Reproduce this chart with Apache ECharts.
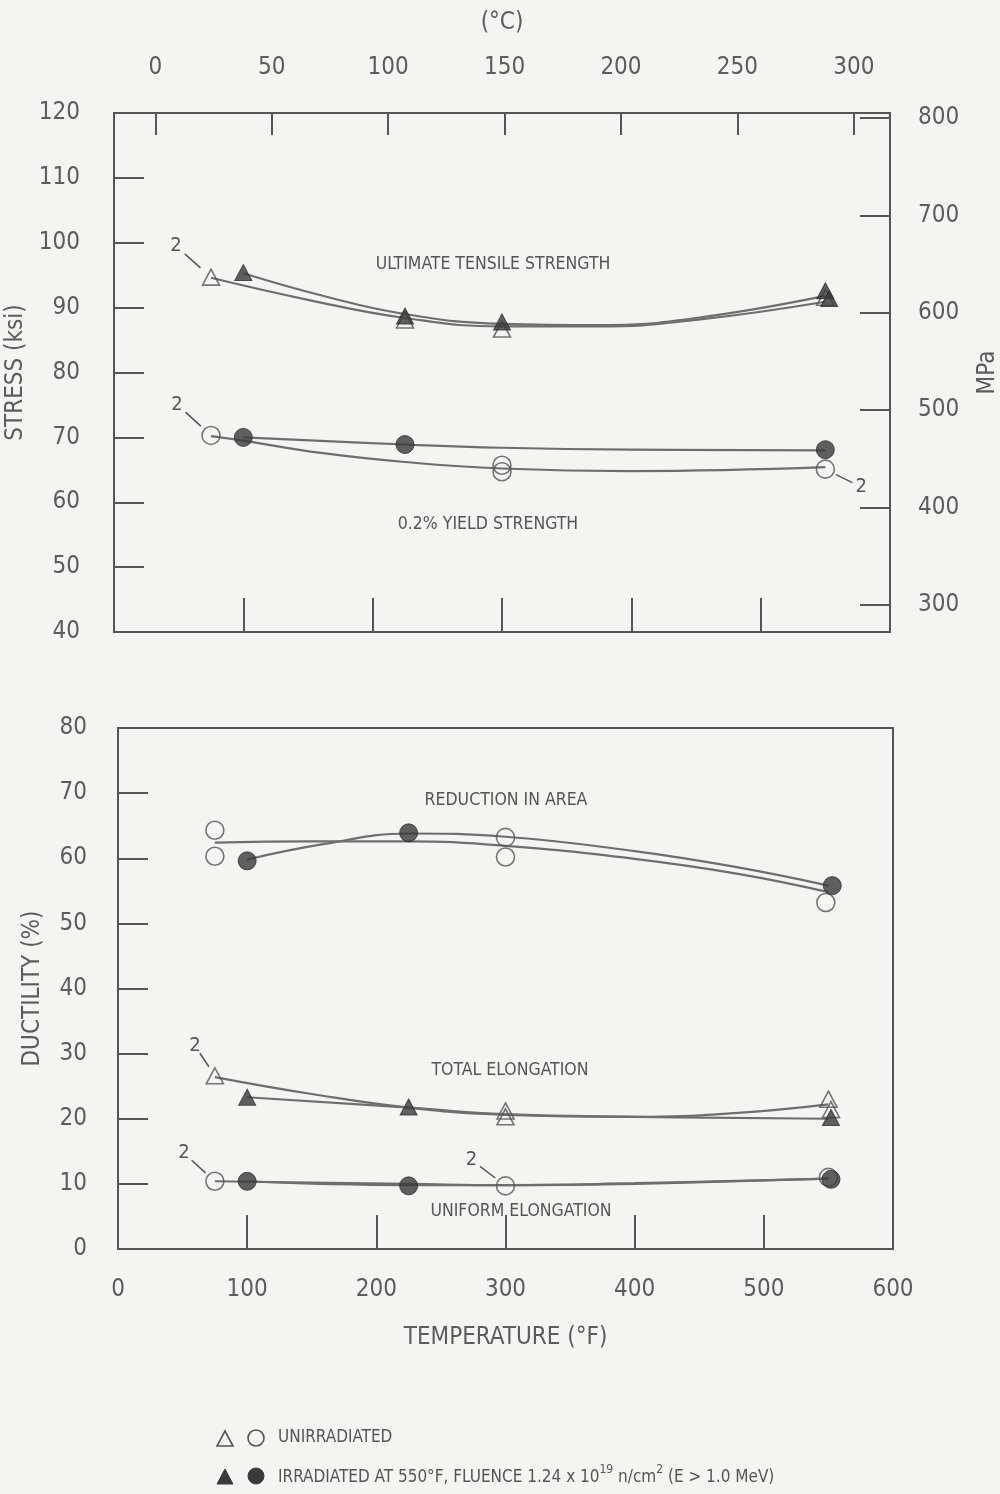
<!DOCTYPE html>
<html><head><meta charset="utf-8">
<script src="https://cdn.jsdelivr.net/npm/echarts@6/dist/echarts.min.js"></script>
<style>html,body{margin:0;padding:0;background:#f4f4f2}#c{width:1000px;height:1494px}</style>
</head><body><div id="c"></div>
<script>
// ---------- tick labels ----------
const tempTicksF = [100, 200, 300, 400, 500];
const tempTicksC = [0, 50, 100, 150, 200, 250, 300];
const mpaTicks = [300, 400, 500, 600, 700, 800];

// ---------- measured points [temperature °F, value] ----------
const utsUnirrPts = [[75, 94.7], [225, 88.1], [300, 86.7], [550, 91.6]];
const utsIrrPts = [[100, 95.4], [225, 88.7], [300, 87.8], [550, 92.6], [553, 91.4]];
const ysUnirrPts = [[75, 70.3], [300, 65.7], [300, 64.7], [550, 65.1]];
const ysIrrPts = [[100, 70.0], [225, 68.9], [550, 68.1]];
const raUnirrPts = [[75, 64.3], [75, 60.3], [300, 63.2], [300, 60.2], [548, 53.2]];
const raIrrPts = [[100, 59.6], [225, 63.9], [553, 55.8]];
const teUnirrPts = [[75, 26.6], [300, 21.2], [300, 20.3], [550, 23.0], [552, 21.4]];
const teIrrPts = [[100, 23.3], [225, 21.8], [552, 20.2]];
const ueUnirrPts = [[75, 10.4], [300, 9.7], [550, 11.0]];
const ueIrrPts = [[100, 10.4], [225, 9.7], [552, 10.7]];

// ---------- fitted curves [temperature °F, value] ----------
const utsUnirrCurve = [[75, 94.6], [150, 91.2], [225, 88.4], [300, 87.1], [375, 87.1], [450, 88.1], [550, 90.9]];
const utsIrrCurve = [[100, 95.3], [160, 91.9], [225, 89.0], [300, 87.5], [375, 87.3], [450, 88.4], [550, 91.8]];
const ysUnirrCurve = [[75, 70.2], [100, 69.5], [160, 67.6], [225, 66.2], [300, 65.2], [400, 64.8], [550, 65.4]];
const ysIrrCurve = [[100, 70.0], [225, 68.9], [300, 68.4], [400, 68.1], [550, 68.0]];
const raUnirrCurve = [[75, 62.4], [150, 62.6], [225, 62.6], [300, 61.9], [400, 59.9], [480, 57.6], [550, 54.8]];
const raIrrCurve = [[100, 59.8], [160, 62.2], [225, 63.8], [300, 63.3], [400, 61.1], [480, 58.6], [550, 55.8]];
const teUnirrCurve = [[75, 26.4], [150, 23.8], [225, 21.7], [300, 20.6], [400, 20.3], [480, 20.9], [550, 22.2]];
const teIrrCurve = [[100, 23.3], [225, 21.7], [300, 20.7], [400, 20.3], [550, 20.0]];
const ueUnirrCurve = [[75, 10.4], [225, 10.0], [300, 9.8], [400, 10.0], [550, 10.8]];
const ueIrrCurve = [[100, 10.4], [225, 9.8], [300, 9.8], [400, 10.1], [550, 10.8]];

// ---------- "2" (duplicate specimen) annotations ----------
const dupTop = [[75, 94.7], [75, 70.3], [550, 65.1]];
const dupBottom = [[75, 26.6], [75, 10.4], [300, 9.7]];

// ---------- styling ----------
const BG = '#f4f4f2', INK = '#555555', LINE = '#6e6e6e', DARK = '#3a3a3a';
const FONT = '"Liberation Sans Narrow", "DejaVu Sans Condensed", sans-serif';
const dupTopOffsets = [[-35, -31], [-34, -31], [36, 18]];
const dupBottomOffsets = [[-20, -30], [-31, -28], [-34, -26]];
const f2c = f => (f - 32) / 1.8;

const axisLineS = { show: true, onZero: false, lineStyle: { color: INK, width: 2 } };
const tickS = len => ({ show: true, inside: true, length: len, lineStyle: { color: INK, width: 2 } });
const labelS = m => ({ color: '#5c5c5c', fontFamily: FONT, fontSize: 24, margin: m });
const nameS = { color: '#5c5c5c', fontFamily: FONT, fontSize: 24 };

function curve(data, xi, yi) {
  return { type: 'line', xAxisIndex: xi, yAxisIndex: yi, data, smooth: 0.45, showSymbol: false,
    lineStyle: { color: LINE, width: 2.2 }, z: 2, silent: true };
}
function pts(data, xi, yi, shape, filled) {
  return { type: 'scatter', xAxisIndex: xi, yAxisIndex: yi, data,
    symbol: shape, symbolSize: shape === 'circle' ? 18 : [17, 16],
    itemStyle: filled ? { color: DARK, borderColor: '#2e2e2e', borderWidth: 1 }
                      : { color: 'rgba(0,0,0,0)', borderColor: INK, borderWidth: 1.6 },
    z: filled ? 4 : 3, silent: true };
}
function dup(data, offsets, xi, yi) {
  return { type: 'custom', xAxisIndex: xi, yAxisIndex: yi, data, z: 6, silent: true,
    renderItem(params, api) {
      const p = api.coord([api.value(0), api.value(1)]);
      const o = offsets[params.dataIndex];
      return { type: 'group', children: [
        { type: 'line', shape: { x1: p[0] + o[0] * 0.75, y1: p[1] + o[1] * 0.75, x2: p[0] + o[0] * 0.3, y2: p[1] + o[1] * 0.3 },
          style: { stroke: INK, lineWidth: 1.5 } },
        { type: 'text', x: p[0] + o[0], y: p[1] + o[1],
          style: { text: '2', fill: INK, font: '20px ' + FONT, align: 'center', verticalAlign: 'middle' } }
      ] };
    } };
}

const chart = echarts.init(document.getElementById('c'), null, { renderer: 'canvas' });
const tri = (cx, cy, filled) => ({ type: 'polygon', shape: { points: [[cx, cy - 8], [cx + 8, cy + 7], [cx - 8, cy + 7]] },
  style: filled ? { fill: DARK, stroke: DARK, lineWidth: 1 } : { fill: 'none', stroke: INK, lineWidth: 1.6 } });
const circ = (cx, cy, filled) => ({ type: 'circle', shape: { cx, cy, r: 8 },
  style: filled ? { fill: DARK, stroke: DARK, lineWidth: 1 } : { fill: 'none', stroke: INK, lineWidth: 1.6 } });
const caption = (x, y, text) => ({ type: 'text', x, y,
  style: { text, fill: INK, font: '17.5px ' + FONT, align: 'center', verticalAlign: 'middle' } });

chart.setOption({
  backgroundColor: BG,
  animation: false,
  grid: [
    { left: 114, top: 113, width: 776, height: 519, show: true, borderColor: INK, borderWidth: 2, outerBoundsMode: 'none', containLabel: false },
    { left: 118, top: 728, width: 775, height: 521, show: true, borderColor: INK, borderWidth: 2, outerBoundsMode: 'none', containLabel: false }
  ],
  xAxis: [
    { gridIndex: 0, type: 'value', min: 0, max: 600, position: 'bottom', axisLine: axisLineS,
      axisTick: Object.assign(tickS(34), { customValues: tempTicksF }), axisLabel: { show: false }, splitLine: { show: false } },
    { gridIndex: 0, type: 'value', min: f2c(0), max: f2c(600), position: 'top', axisLine: axisLineS,
      name: '(°C)', nameLocation: 'middle', nameGap: 78, nameTextStyle: nameS,
      axisTick: Object.assign(tickS(22), { customValues: tempTicksC }),
      axisLabel: Object.assign(labelS(33), { customValues: tempTicksC }), splitLine: { show: false } },
    { gridIndex: 1, type: 'value', min: 0, max: 600, interval: 100, position: 'bottom', axisLine: axisLineS,
      name: 'TEMPERATURE (°F)', nameLocation: 'middle', nameGap: 77, nameTextStyle: nameS,
      axisTick: tickS(34), axisLabel: labelS(29), splitLine: { show: false } }
  ],
  yAxis: [
    { gridIndex: 0, type: 'value', min: 40, max: 120, interval: 10, position: 'left', axisLine: axisLineS,
      name: 'STRESS (ksi)', nameLocation: 'middle', nameGap: 76, nameRotate: 90, nameTextStyle: nameS,
      axisTick: tickS(30), axisLabel: labelS(34), splitLine: { show: false } },
    { gridIndex: 0, type: 'value', min: 272.3, max: 805.1, position: 'right', axisLine: axisLineS,
      name: 'MPa', nameLocation: 'middle', nameGap: 86, nameRotate: 90, nameTextStyle: nameS,
      axisTick: Object.assign(tickS(30), { customValues: mpaTicks }),
      axisLabel: Object.assign(labelS(28), { customValues: mpaTicks }), splitLine: { show: false } },
    { gridIndex: 1, type: 'value', min: 0, max: 80, interval: 10, position: 'left', axisLine: axisLineS,
      name: 'DUCTILITY (%)', nameLocation: 'middle', nameGap: 73, nameRotate: 90, nameTextStyle: nameS,
      axisTick: tickS(30), axisLabel: labelS(31), splitLine: { show: false } }
  ],
  series: [
    curve(utsUnirrCurve, 0, 0), curve(utsIrrCurve, 0, 0),
    curve(ysUnirrCurve, 0, 0), curve(ysIrrCurve, 0, 0),
    pts(utsUnirrPts, 0, 0, 'triangle', false), pts(utsIrrPts, 0, 0, 'triangle', true),
    pts(ysUnirrPts, 0, 0, 'circle', false), pts(ysIrrPts, 0, 0, 'circle', true),
    dup(dupTop, dupTopOffsets, 0, 0),
    curve(raUnirrCurve, 2, 2), curve(raIrrCurve, 2, 2),
    curve(teUnirrCurve, 2, 2), curve(teIrrCurve, 2, 2),
    curve(ueUnirrCurve, 2, 2), curve(ueIrrCurve, 2, 2),
    pts(raUnirrPts, 2, 2, 'circle', false), pts(raIrrPts, 2, 2, 'circle', true),
    pts(teUnirrPts, 2, 2, 'triangle', false), pts(teIrrPts, 2, 2, 'triangle', true),
    pts(ueUnirrPts, 2, 2, 'circle', false), pts(ueIrrPts, 2, 2, 'circle', true),
    dup(dupBottom, dupBottomOffsets, 2, 2)
  ],
  graphic: [
    caption(493, 264, 'ULTIMATE TENSILE STRENGTH'),
    caption(488, 524, '0.2% YIELD STRENGTH'),
    caption(506, 800, 'REDUCTION IN AREA'),
    caption(510, 1070, 'TOTAL ELONGATION'),
    caption(521, 1211, 'UNIFORM ELONGATION'),
    tri(225, 1439, false), circ(256, 1438, false),
    { type: 'text', x: 278, y: 1438, style: { text: 'UNIRRADIATED', fill: INK, font: '17px ' + FONT, verticalAlign: 'middle' } },
    tri(225, 1477, true), circ(256, 1476, true),
    { type: 'text', x: 278, y: 1475, style: {
        text: '{n|IRRADIATED AT 550°F, FLUENCE 1.24 x 10}{s|19}{n| n/cm}{s|2}{n| (E > 1.0 MeV)}',
        fill: INK, font: '17px ' + FONT, verticalAlign: 'middle',
        rich: {
          n: { fontSize: 17, fontFamily: FONT, fill: INK, lineHeight: 22, verticalAlign: 'bottom' },
          s: { fontSize: 12, fontFamily: FONT, fill: INK, lineHeight: 10, verticalAlign: 'top' }
        } } }
  ]
});
</script></body></html>
